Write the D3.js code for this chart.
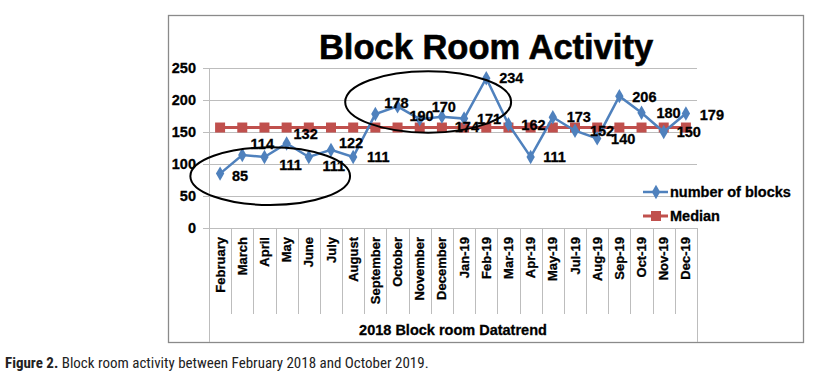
<!DOCTYPE html>
<html><head><meta charset="utf-8">
<script src="https://cdn.jsdelivr.net/npm/d3@7"></script>
<style>
body{margin:0;background:#fff;}
svg{display:block;}
</style></head>
<body>
<svg id="chart" width="814" height="389"></svg>
<script>
const categories = ["February","March","April","May","June","July","August","September","October","November","December","Jan-19","Feb-19","Mar-19","Apr-19","May-19","Jul-19","Aug-19","Sep-19","Oct-19","Nov-19","Dec-19"];
const blocks = [85,114,111,132,111,122,111,178,190,170,174,171,234,162,111,173,152,140,206,180,150,179];
const medianValue = [157];
const yTicks = [0,50,100,150,200,250];
const seriesNames = ["number of blocks","Median"];
const titleText = "Block Room Activity";
const axisTitle = "2018 Block room Datatrend";
const captionBold = "Figure 2.";
const captionText = " Block room activity between February 2018 and October 2019.";
// highlight ellipses in data space: [center index, center value, radius in categories, radius in value]
const ellipses = [[2.26,81,3.6,45],[9.38,197,3.74,48]];

const svg = d3.select("#chart");
const blue = "#4F81BD", red = "#C0504D";
const FONT = "Liberation Sans, Arial, sans-serif";
const L = 209, R = 697, T = 68, B = 228;
const x = d3.scaleBand().domain(categories).range([L, R]).padding(0);
const cx = c => x(c) + x.bandwidth()/2;
const y = d3.scaleLinear().domain([0,250]).range([B, T]);
const idx = d3.scaleLinear().domain([0,1]).range([cx(categories[0]), cx(categories[1])]);

// outer frame
svg.append("rect").attr("x",168.5).attr("y",15.5).attr("width",635).attr("height",327)
  .attr("fill","none").attr("stroke","#8a8a8a").attr("stroke-width",1.3);

// title
svg.append("text").attr("x",486).attr("y",59).attr("text-anchor","middle")
  .attr("font-family",FONT).attr("font-weight","bold")
  .attr("font-size",34.5).attr("stroke","#000").attr("stroke-width",0.6).text(titleText);

// gridlines
svg.append("g").selectAll("line").data(yTicks).join("line")
  .attr("x1",203).attr("x2",R).attr("y1",d=>Math.round(y(d))+0.5).attr("y2",d=>Math.round(y(d))+0.5)
  .attr("stroke","#bdbdbd").attr("stroke-width",1);

const boldText = sel => sel.attr("font-family",FONT).attr("font-weight","bold")
  .attr("stroke","#000").attr("stroke-width",0.3);

// y axis labels
boldText(svg.append("g").selectAll("text").data(yTicks).join("text")
  .attr("x",196).attr("y",d=>y(d)).attr("dy","0.35em").attr("text-anchor","end")
  .attr("font-size",14.5).text(d=>d));

// y axis line
svg.append("line").attr("x1",L+0.5).attr("x2",L+0.5).attr("y1",T).attr("y2",342)
  .attr("stroke","#bdbdbd");
svg.append("line").attr("x1",R+0.5).attr("x2",R+0.5).attr("y1",B).attr("y2",342)
  .attr("stroke","#bdbdbd");
// category separators
svg.append("g").selectAll("line").data(categories.slice(1)).join("line")
  .attr("x1",d=>Math.round(x(d))+0.5).attr("x2",d=>Math.round(x(d))+0.5)
  .attr("y1",B).attr("y2",314).attr("stroke","#bdbdbd");

// category labels
boldText(svg.append("g").selectAll("text").data(categories).join("text")
  .attr("transform",d=>`translate(${cx(d)+4.5},237) rotate(-90)`)
  .attr("text-anchor","end")
  .attr("font-size",13).text(d=>d));

// axis title
boldText(svg.append("text").attr("x",(L+R)/2).attr("y",335).attr("text-anchor","middle")
  .attr("font-size",14.5).text(axisTitle));

// median line
const med = medianValue[0];
svg.append("line").attr("x1",cx(categories[0])).attr("x2",cx(categories[categories.length-1]))
  .attr("y1",y(med)).attr("y2",y(med)).attr("stroke",red).attr("stroke-width",3);
svg.append("g").selectAll("rect").data(categories).join("rect")
  .attr("x",d=>cx(d)-5).attr("y",y(med)-5).attr("width",10).attr("height",10).attr("fill",red);

// blocks line
const line = d3.line().x((d,i)=>cx(categories[i])).y(d=>y(d));
svg.append("path").datum(blocks).attr("d",line).attr("fill","none")
  .attr("stroke",blue).attr("stroke-width",2.5);
const diamond = d3.symbol().type(d3.symbolDiamond).size(60);
svg.append("g").selectAll("path").data(blocks).join("path")
  .attr("transform",(d,i)=>`translate(${cx(categories[i])},${y(d)})`)
  .attr("d",diamond).attr("fill",blue);

// data labels (offset as placed in the original)
const labelDx = [20,20,26,19,25,20,25,21,24,24,25,25,25,25,24,26,27,26,25,27,25,26];
const labelDy = [2,-11,8,-10,9,-7,0,-11,10,-12,10,0,0,1,0,0,0,1,1,0,0,1];
boldText(svg.append("g").selectAll("text").data(blocks).join("text")
  .attr("x",(d,i)=>cx(categories[i])+labelDx[i]).attr("y",(d,i)=>y(d)+labelDy[i])
  .attr("dy","0.35em").attr("text-anchor","middle")
  .attr("font-size",14.5).text(d=>d));

// ellipses
svg.append("g").selectAll("ellipse").data(ellipses).join("ellipse")
  .attr("cx",d=>idx(d[0])).attr("cy",d=>y(d[1]))
  .attr("rx",d=>idx(d[2])-idx(0)).attr("ry",d=>y(0)-y(d[3]))
  .attr("fill","none").attr("stroke","#000").attr("stroke-width",2);

// legend
const lg = svg.append("g");
[0,1].forEach(i=>{
  const ly = 192 + i*24;
  lg.append("line").attr("x1",643).attr("x2",668).attr("y1",ly).attr("y2",ly)
    .attr("stroke",i?red:blue).attr("stroke-width",i?3:2.5);
  if(i) lg.append("rect").attr("x",651).attr("y",ly-5).attr("width",10).attr("height",10).attr("fill",red);
  else lg.append("path").attr("transform",`translate(656,${ly})`).attr("d",diamond).attr("fill",blue);
  boldText(lg.append("text").attr("x",670).attr("y",ly).attr("dy","0.35em")
    .attr("font-size",14.5).text(seriesNames[i]));
});

// caption
const cap = svg.append("text").attr("x",5).attr("y",368)
  .attr("font-family","Liberation Sans Narrow, Roboto Condensed, Liberation Sans, sans-serif")
  .attr("font-size",15).attr("fill","#222");
cap.append("tspan").attr("font-weight","bold").text(captionBold);
cap.append("tspan").text(captionText);
</script>
</body></html>
